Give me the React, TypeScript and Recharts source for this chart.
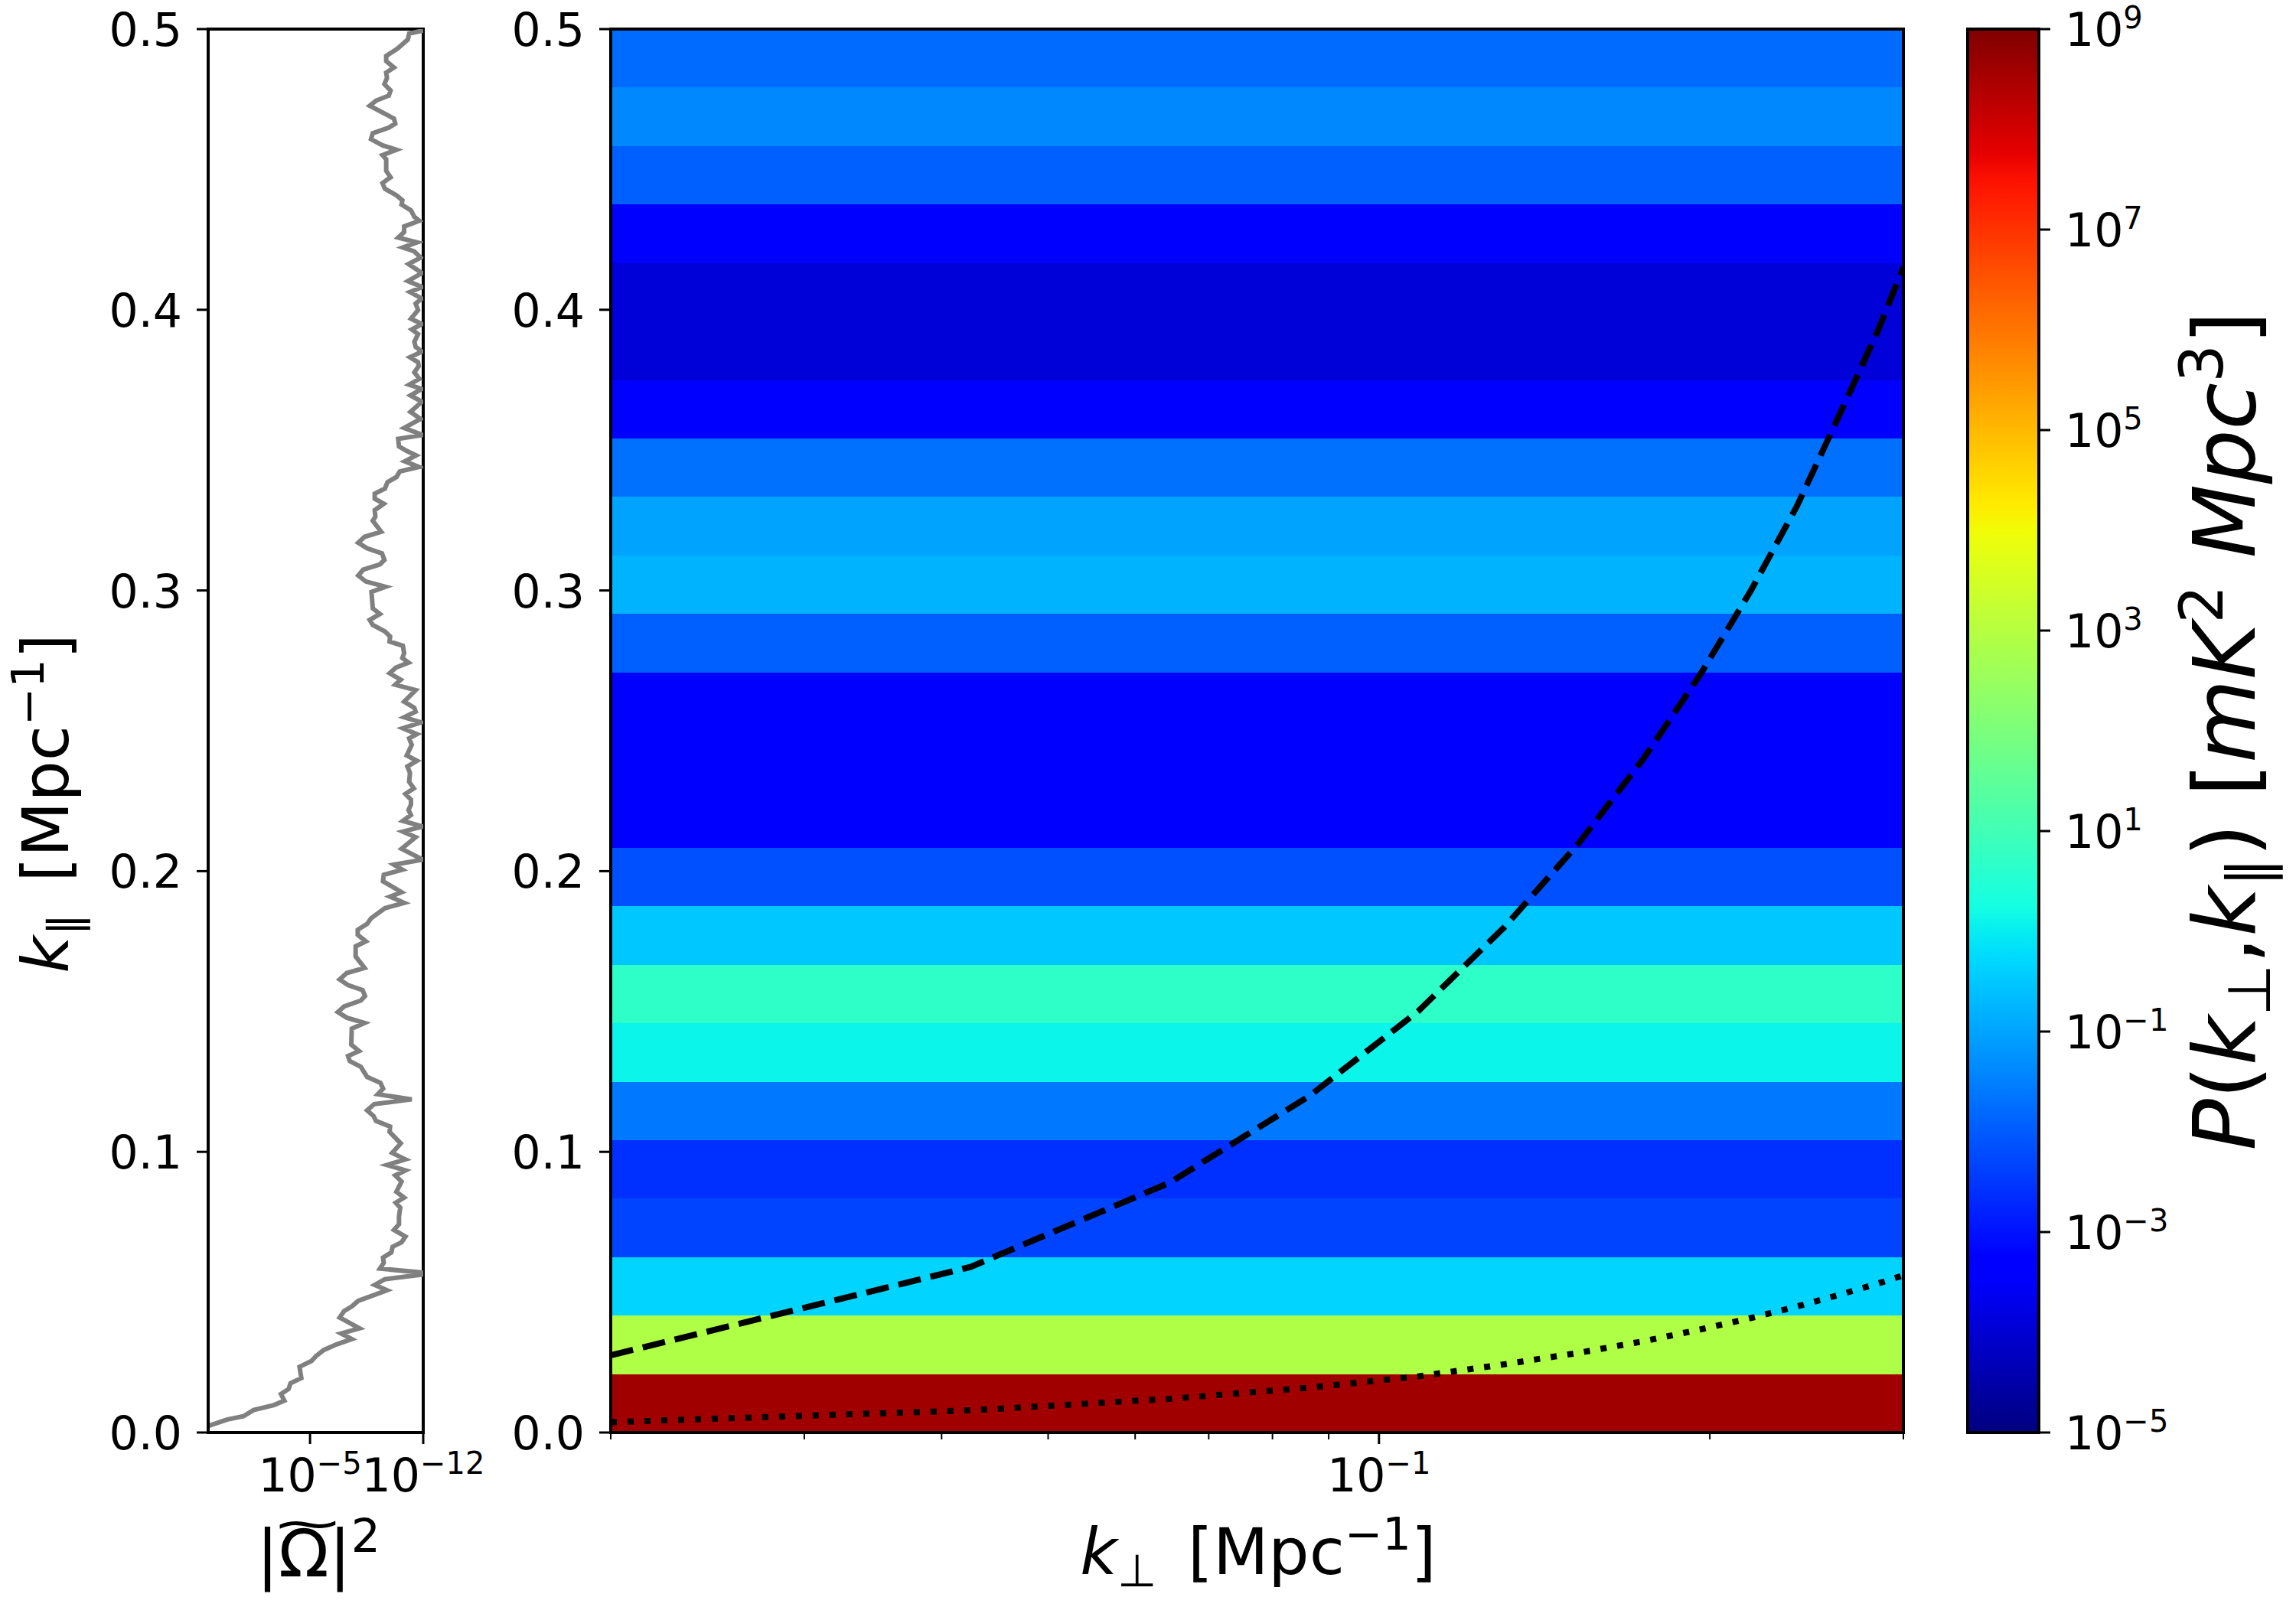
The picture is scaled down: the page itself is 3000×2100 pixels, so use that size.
import {
  ComposedChart,
  Line,
  LineChart,
  ReferenceArea,
  XAxis,
  YAxis,
} from "recharts";

const bandEdges = [
  0, 0.0208, 0.0417, 0.0625, 0.0833, 0.1042, 0.125, 0.1458, 0.1667, 0.1875, 0.2083, 0.2292, 0.25,
  0.2708, 0.2917, 0.3125, 0.3333, 0.3542, 0.375, 0.3958, 0.4167, 0.4375, 0.4583, 0.4792, 0.5,
];
// log10 of P, one value per band from the bottom up
const bandLogPower = [
  8.6, 2.9, -0.34, -2.31, -2.59, -1.6, 0.11, 0.68, -0.52, -2.15, -3.32, -3.32, -3.32, -1.93, -0.79,
  -1.0, -1.71, -3.32, -3.92, -3.92, -3.4, -1.93, -1.39, -1.78,
];

const kPerp = [0.02, 0.0425, 0.0645, 0.0865, 0.1085, 0.13, 0.152, 0.174, 0.196, 0.218, 0.24, 0.262, 0.284, 0.3];
const wedgeKPar = [0.0275, 0.059, 0.089, 0.12, 0.15, 0.18, 0.21, 0.24, 0.27, 0.3, 0.33, 0.362, 0.392, 0.415];
const fovKPar = [0.0037, 0.0079, 0.012, 0.016, 0.02, 0.0243, 0.0284, 0.0325, 0.0367, 0.0408, 0.0449, 0.049, 0.053, 0.056];

const windowK = [
  0.4995, 0.4984, 0.4963, 0.4931, 0.4904, 0.4886, 0.4863, 0.4845, 0.4826, 0.4804, 0.4781, 0.4763, 0.4745, 0.4727,
  0.4681, 0.4663, 0.4649, 0.4629, 0.4608, 0.4586, 0.457, 0.4551, 0.4536, 0.4495, 0.4472, 0.4451, 0.4431, 0.4408,
  0.439, 0.4375, 0.4354, 0.4331, 0.4317, 0.4297, 0.4277, 0.4257, 0.424, 0.4222, 0.4208, 0.4186, 0.4163, 0.4131,
  0.4102, 0.4081, 0.4063, 0.404, 0.4022, 0.3999, 0.3968, 0.3949, 0.393, 0.3913, 0.3886, 0.3868, 0.3851, 0.3831,
  0.3813, 0.3799, 0.3777, 0.3754, 0.3733, 0.3718, 0.3695, 0.3672, 0.3636, 0.3611, 0.3579, 0.3554, 0.354, 0.3513,
  0.3497, 0.3481, 0.346, 0.344, 0.3424, 0.3404, 0.3386, 0.3363, 0.3345, 0.3327, 0.3309, 0.3286, 0.3263, 0.3248,
  0.3209, 0.3191, 0.317, 0.315, 0.3132, 0.3109, 0.3093, 0.3074, 0.3053, 0.3032, 0.3013, 0.2995, 0.2936, 0.2916,
  0.2895, 0.2877, 0.2854, 0.2836, 0.2818, 0.2803, 0.2777, 0.2759, 0.2743, 0.2725, 0.2705, 0.2682, 0.2664, 0.2645,
  0.2604, 0.2582, 0.2568, 0.2548, 0.253, 0.2509, 0.2488, 0.2473, 0.245, 0.2412, 0.2393, 0.2373, 0.235, 0.2318,
  0.2295, 0.2275, 0.2255, 0.2237, 0.2218, 0.22, 0.2179, 0.2159, 0.2141, 0.2121, 0.208, 0.2041, 0.2023, 0.2005,
  0.1987, 0.1964, 0.1925, 0.1909, 0.1887, 0.1868, 0.1832, 0.1812, 0.1791, 0.1773, 0.175, 0.1732, 0.1696, 0.1655,
  0.1637, 0.1614, 0.1594, 0.1576, 0.1555, 0.1539, 0.1518, 0.1498, 0.1478, 0.1459, 0.1439, 0.1382, 0.1359, 0.1341,
  0.1323, 0.1303, 0.1267, 0.1246, 0.1225, 0.1205, 0.1187, 0.117, 0.1148, 0.1128, 0.111, 0.109, 0.1071, 0.103,
  0.0996, 0.0973, 0.0953, 0.0934, 0.0916, 0.0894, 0.0858, 0.0837, 0.0819, 0.0801, 0.0769, 0.0742, 0.0722, 0.0698,
  0.0678, 0.0662, 0.0642, 0.0623, 0.0605, 0.0584, 0.0569, 0.0564, 0.0546, 0.0526, 0.0507, 0.0469, 0.0449, 0.0433,
  0.041, 0.0371, 0.0353, 0.0333, 0.0314, 0.0294, 0.0273, 0.0255, 0.0234, 0.0194, 0.0176, 0.0155, 0.0137, 0.0114,
  0.0098, 0.008, 0.0058, 0.0046, 0.0024, 0.0014,
];
// log10 of |Omega|^2 at each windowK
const windowLogPower = [
  -12, -11.13, -11.05, -10.42, -9.71, -9.71, -10.19, -9.71, -9.76, -9.6, -9.98, -9.87, -9.08, -8.69,
  -10.19, -10.27, -9.87, -8.88, -8.77, -9.48, -10.34, -9.48, -9.71, -9.71, -9.98, -9.48, -9.63, -10.34,
  -10.71, -10.66, -11.24, -11.45, -11.76, -10.82, -10.82, -10.45, -11.61, -10.74, -11.45, -11.84, -11.09, -11.92,
  -11.05, -11.92, -11.18, -11.92, -11.53, -11.68, -11.24, -11.92, -11.29, -11.68, -11.45, -11.53, -11.92, -11.18,
  -11.68, -11.72, -11.45, -11.76, -11.13, -11.92, -11.21, -11.92, -11.21, -11.84, -10.82, -11.97, -10.45, -10.5,
  -10.98, -11.56, -10.86, -11.72, -10.55, -10.34, -9.79, -9.63, -9.0, -9.0, -9.56, -9.0, -9.04, -8.88,
  -9.4, -8.37, -7.98, -8.53, -9.45, -9.6, -9.32, -8.29, -7.98, -8.45, -9.67, -8.8, -8.88, -9.32,
  -8.69, -8.88, -9.63, -9.95, -9.92, -10.74, -10.82, -10.71, -11.09, -10.3, -9.92, -10.61, -10.27, -11.53,
  -10.82, -11.45, -11.53, -10.82, -11.87, -10.74, -11.61, -11.13, -11.29, -10.98, -11.61, -11.02, -11.18, -11.13,
  -11.42, -10.9, -11.24, -11.24, -11.09, -11.24, -10.74, -11.97, -10.74, -11.53, -10.66, -11.97, -10.19, -10.71,
  -9.56, -9.51, -10.66, -9.95, -10.82, -9.63, -8.77, -8.53, -7.95, -7.95, -8.45, -7.82, -7.82, -8.37,
  -7.27, -6.83, -7.35, -8.25, -8.4, -8.14, -7.11, -6.72, -7.27, -8.37, -7.58, -7.55, -8.03, -7.35,
  -7.46, -8.14, -8.53, -9.35, -9.52, -9.19, -11.29, -8.97, -8.53, -8.92, -9.08, -9.95, -9.92, -10.61,
  -10.08, -10.9, -9.76, -10.9, -10.27, -10.66, -10.34, -10.82, -10.3, -10.58, -10.5, -10.5, -10.19, -10.9,
  -10.66, -10.11, -10.03, -9.51, -9.56, -9.32, -12.08, -12.1, -9.63, -9.0, -9.76, -7.98, -7.58, -7.11,
  -6.83, -8.06, -6.92, -7.58, -6.64, -5.85, -5.38, -5.09, -4.35, -4.46, -3.8, -3.67, -3.2, -3.41,
  -2.77, -1.51, -0.88, 0.14, 1.25, 1.9,
];

const kParTicks = [0, 0.1, 0.2, 0.3, 0.4, 0.5];
const kPerpTicks = [0.02, 0.03, 0.04, 0.05, 0.06, 0.07, 0.08, 0.09, 0.1, 0.2, 0.3];
const windowTicks = [-12, -5];
const colorbarTicks = [-5, -3, -1, 1, 3, 5, 7, 9];

const jetStops = {
  r: [[0, 0], [0.35, 0], [0.66, 1], [0.89, 1], [1, 0.5]],
  g: [[0, 0], [0.125, 0], [0.375, 1], [0.64, 1], [0.91, 0], [1, 0]],
  b: [[0, 0.5], [0.11, 1], [0.34, 1], [0.65, 0], [1, 0]],
};

function channel(stops: number[][], t: number) {
  for (let i = 1; i < stops.length; i++) {
    if (t <= stops[i][0]) {
      const [t0, v0] = stops[i - 1];
      const [t1, v1] = stops[i];
      return Math.round(255 * (v0 + ((v1 - v0) * (t - t0)) / (t1 - t0)));
    }
  }
  return Math.round(255 * stops[stops.length - 1][1]);
}

function jet(logPower: number) {
  const t = (logPower + 5) / 14;
  return `rgb(${channel(jetStops.r, t)},${channel(jetStops.g, t)},${channel(jetStops.b, t)})`;
}

const FONT = "DejaVu Sans";
const TICK_FONT = 60;
const SUP_FONT = 40;
const TOP = 38;
const BOTTOM = 2100 - 1872;
const AXIS_W = 200;
const AXIS_H = 170;
const SPINE = 4;
const SIZE = { width: 3000, height: 2100 };
const layer = { position: "absolute", left: 0, top: 0 } as const;

function KParTick({ x, y, payload }: any) {
  return (
    <g>
      <line x1={x} x2={x - 15} y1={y} y2={y} stroke="#000" strokeWidth={3} />
      <text x={x - 34} y={y + 22} textAnchor="end" fontFamily={FONT} fontSize={TICK_FONT} fill="#000">
        {payload.value.toFixed(1)}
      </text>
    </g>
  );
}

function PowerText({ x, y, exp, anchor }: { x: number; y: number; exp: number; anchor: string }) {
  return (
    <text x={x} y={y} textAnchor={anchor as any} fontFamily={FONT} fontSize={TICK_FONT} fill="#000">
      10
      <tspan dy={-23} fontSize={SUP_FONT}>{String(exp).replace("-", "\u2212")}</tspan>
    </text>
  );
}

function WindowTick({ x, y, payload }: any) {
  return (
    <g>
      <line x1={x} x2={x} y1={y} y2={y + 15} stroke="#000" strokeWidth={3} />
      <PowerText x={x} y={y + 77} exp={payload.value} anchor="middle" />
    </g>
  );
}

function KPerpTick({ x, y, payload }: any) {
  const major = payload.value === 0.1;
  return (
    <g>
      <line x1={x} x2={x} y1={y} y2={y + (major ? 15 : 9)} stroke="#000" strokeWidth={major ? 3 : 2} />
      {major && <PowerText x={x} y={y + 77} exp={-1} anchor="middle" />}
    </g>
  );
}

function ColorbarTick({ x, y, payload }: any) {
  return (
    <g>
      <line x1={x} x2={x + 15} y1={y} y2={y} stroke="#000" strokeWidth={3} />
      <PowerText x={x + 34} y={y + 22} exp={payload.value} anchor="start" />
    </g>
  );
}

const wedgeData = kPerp.map((k, i) => ({ kPerp: k, kPar: wedgeKPar[i] }));
const fovData = kPerp.map((k, i) => ({ kPerp: k, kPar: fovKPar[i] }));
const windowData = windowK.map((k, i) => ({ k, log: windowLogPower[i] }));
const colorbarData = [{ across: 0 }, { across: 1 }];
const jetOffsets = Array.from({ length: 57 }, (_, i) => i / 56);

function WindowPanel() {
  return (
    <div style={layer}>
      <LineChart
        {...SIZE}
        layout="vertical"
        data={windowData}
        margin={{ top: TOP, bottom: BOTTOM - AXIS_H, left: 272 - AXIS_W, right: 3000 - 553 }}
      >
        <XAxis
          type="number"
          dataKey="log"
          domain={[-12, 1.3]}
          reversed
          allowDataOverflow
          ticks={windowTicks}
          interval={0}
          height={AXIS_H}
          tickLine={false}
          tickSize={0}
          tickMargin={0}
          tick={<WindowTick />}
          axisLine={{ stroke: "#000", strokeWidth: SPINE }}
        />
        <YAxis
          type="number"
          dataKey="k"
          domain={[0, 0.5]}
          reversed
          allowDataOverflow
          ticks={kParTicks}
          interval={0}
          width={AXIS_W}
          tickLine={false}
          tickSize={0}
          tickMargin={0}
          tick={<KParTick />}
          axisLine={{ stroke: "#000", strokeWidth: SPINE }}
        />
        <Line dataKey="log" stroke="#808080" strokeWidth={6} dot={false} type="linear" isAnimationActive={false} />
        <ReferenceArea x1={-12} x2={1.3} y1={0} y2={0.5} fill="none" stroke="#000" strokeWidth={SPINE} />
      </LineChart>
    </div>
  );
}

function PowerPanel() {
  return (
    <div style={layer}>
      <ComposedChart
        {...SIZE}
        margin={{ top: TOP, bottom: BOTTOM - AXIS_H, left: 798 - AXIS_W, right: 3000 - 2487 }}
      >
        <XAxis
          type="number"
          dataKey="kPerp"
          scale="log"
          domain={[0.02, 0.3]}
          allowDataOverflow
          ticks={kPerpTicks}
          interval={0}
          height={AXIS_H}
          tickLine={false}
          tickSize={0}
          tickMargin={0}
          tick={<KPerpTick />}
          axisLine={{ stroke: "#000", strokeWidth: SPINE }}
        />
        <YAxis
          type="number"
          domain={[0, 0.5]}
          allowDataOverflow
          ticks={kParTicks}
          interval={0}
          width={AXIS_W}
          tickLine={false}
          tickSize={0}
          tickMargin={0}
          tick={<KParTick />}
          axisLine={{ stroke: "#000", strokeWidth: SPINE }}
        />
        {bandLogPower.map((p, i) => (
          <ReferenceArea
            key={i}
            x1={0.02}
            x2={0.3}
            y1={bandEdges[i]}
            y2={bandEdges[i + 1]}
            fill={jet(p)}
            fillOpacity={1}
            stroke="none"
            shapeRendering="crispEdges"
          />
        ))}
        <Line
          data={wedgeData}
          dataKey="kPar"
          stroke="#000"
          strokeWidth={8}
          strokeDasharray="30 13"
          dot={false}
          type="linear"
          isAnimationActive={false}
        />
        <Line
          data={fovData}
          dataKey="kPar"
          stroke="#000"
          strokeWidth={8}
          strokeDasharray="8 14"
          dot={false}
          type="linear"
          isAnimationActive={false}
        />
        <ReferenceArea x1={0.02} x2={0.3} y1={0} y2={0.5} fill="none" stroke="#000" strokeWidth={SPINE} />
      </ComposedChart>
    </div>
  );
}

function Colorbar() {
  return (
    <div style={layer}>
      <ComposedChart
        {...SIZE}
        data={colorbarData}
        margin={{ top: TOP, bottom: BOTTOM, left: 2571, right: 3000 - 2664 - AXIS_W }}
      >
        <defs>
          <linearGradient id="jetBar" x1="0" y1="1" x2="0" y2="0">
            {jetOffsets.map((o) => (
              <stop key={o} offset={o} stopColor={jet(o * 14 - 5)} />
            ))}
          </linearGradient>
        </defs>
        <XAxis type="number" dataKey="across" domain={[0, 1]} hide height={0} />
        <YAxis
          type="number"
          orientation="right"
          domain={[-5, 9]}
          allowDataOverflow
          ticks={colorbarTicks}
          interval={0}
          width={AXIS_W}
          tickLine={false}
          tickSize={0}
          tickMargin={0}
          tick={<ColorbarTick />}
          axisLine={false}
        />
        <ReferenceArea x1={0} x2={1} y1={-5} y2={9} fill="url(#jetBar)" fillOpacity={1} stroke="#000" strokeWidth={SPINE} />
      </ComposedChart>
    </div>
  );
}

function AxisTitles() {
  const math = { fontStyle: "italic" } as const;
  return (
    <svg {...SIZE} style={{ ...layer, pointerEvents: "none" }} fontFamily={FONT} fill="#000">
      <text x={89} y={1050} fontSize={84} textAnchor="middle" transform="rotate(-90 89 1050)">
        <tspan {...math}>k</tspan>
        <tspan fontSize={59} dy={16}>{"\u2225"}</tspan>
        <tspan dy={-16} dx={14}>{"  [Mpc"}</tspan>
        <tspan fontSize={59} dy={-32}>{"\u22121"}</tspan>
        <tspan dy={32}>]</tspan>
      </text>
      <text x={1644} y={2057} fontSize={84} textAnchor="middle">
        <tspan {...math}>k</tspan>
        <tspan fontSize={59} dy={16}>{"\u22A5"}</tspan>
        <tspan dy={-16} dx={14}>{"  [Mpc"}</tspan>
        <tspan fontSize={59} dy={-32}>{"\u22121"}</tspan>
        <tspan dy={32}>]</tspan>
      </text>
      <text x={416} y={2060} fontSize={86} textAnchor="middle">
        |{"\u03A9"}|<tspan fontSize={60} dy={-32}>2</tspan>
      </text>
      <text x={0} y={0} fontSize={86} textAnchor="middle" transform="translate(402 2012) scale(1.35 0.7)">
        ~
      </text>
      <text x={2946} y={955} fontSize={112} textAnchor="middle" transform="rotate(-90 2946 955)">
        <tspan {...math}>P</tspan>
        <tspan>(</tspan>
        <tspan {...math}>k</tspan>
        <tspan fontSize={78} dy={20}>{"\u22A5"}</tspan>
        <tspan dy={-20}>,</tspan>
        <tspan {...math}>k</tspan>
        <tspan fontSize={78} dy={20}>{"\u2225"}</tspan>
        <tspan dy={-20}>) [</tspan>
        <tspan {...math}>mK</tspan>
        <tspan fontSize={78} dy={-42}>2</tspan>
        <tspan dy={42} {...math}>{" Mpc"}</tspan>
        <tspan fontSize={78} dy={-42}>3</tspan>
        <tspan dy={42}>]</tspan>
      </text>
    </svg>
  );
}

export default function App() {
  return (
    <div style={{ ...layer, width: 3000, height: 2100, background: "#fff" }}>
      <WindowPanel />
      <PowerPanel />
      <Colorbar />
      <AxisTitles />
    </div>
  );
}
